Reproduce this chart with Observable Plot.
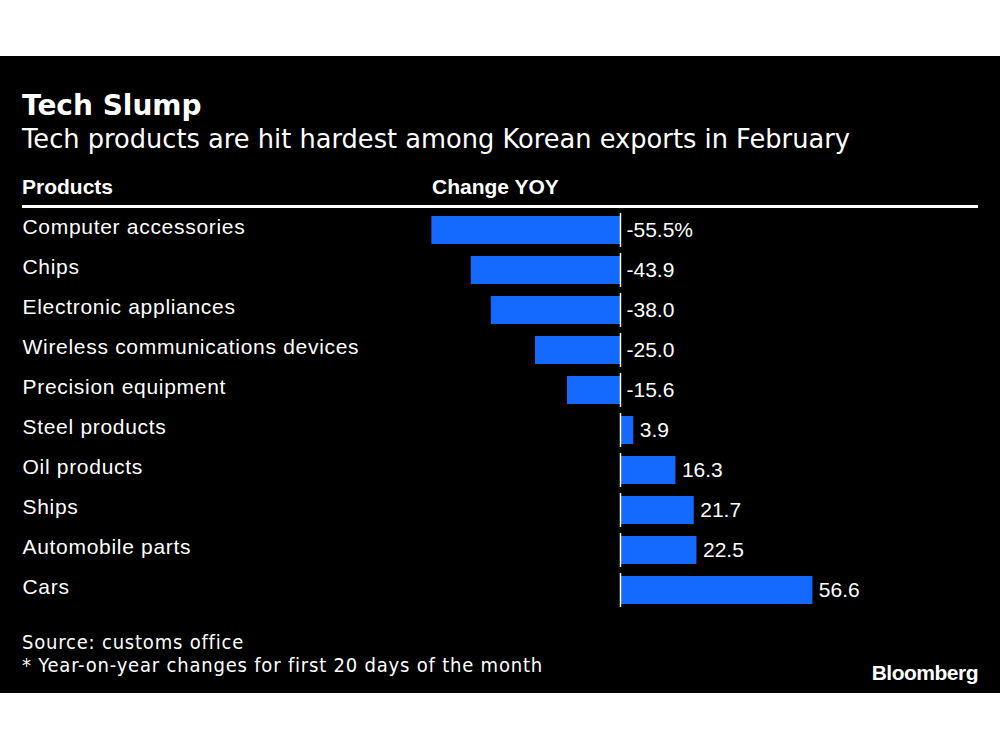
<!DOCTYPE html>
<html>
<head>
<meta charset="utf-8">
<script src="https://cdn.jsdelivr.net/npm/d3@7"></script>
<script src="https://cdn.jsdelivr.net/npm/@observablehq/plot@0.6"></script>
<style>
  html, body { margin: 0; padding: 0; background: #fff; }
  #panel { position: absolute; left: 0; top: 56px; width: 1000px; height: 637px; background: #000; overflow: hidden; }
  .t { position: absolute; color: #fff; white-space: nowrap; line-height: 1; }
  #title { left: 22px; top: 33px; font: bold 28px "DejaVu Sans"; }
  #subtitle { left: 22px; top: 68px; font: 25.7px "DejaVu Sans"; }
  .hdr { top: 119px; font: bold 21px "Liberation Sans", Arial, sans-serif; }
  #rule { position: absolute; left: 22px; top: 149px; width: 956px; height: 3px; background: #fff; }
  #chart { position: absolute; left: 0; top: 154px; }
  .foot { left: 22px; font: 20px "DejaVu Sans Condensed", "DejaVu Sans"; letter-spacing: 0.8px; }
  #brand { right: 22px; top: 605px; font: bold 21px "Liberation Sans", Arial, sans-serif; letter-spacing: -0.5px; }
</style>
</head>
<body>
<div id="panel">
  <div class="t" id="title">Tech Slump</div>
  <div class="t" id="subtitle">Tech products are hit hardest among Korean exports in February</div>
  <div class="t hdr" style="left:22px">Products</div>
  <div class="t hdr" style="left:432px">Change YOY</div>
  <div id="rule"></div>
  <div id="chart"></div>
  <div class="t foot" style="top:574px">Source: customs office</div>
  <div class="t foot" style="top:597px">* Year-on-year changes for first 20 days of the month</div>
  <div class="t" id="brand">Bloomberg</div>
</div>
<script>
const products = [
  "Computer accessories",
  "Chips",
  "Electronic appliances",
  "Wireless communications devices",
  "Precision equipment",
  "Steel products",
  "Oil products",
  "Ships",
  "Automobile parts",
  "Cars"
];
const changeYoY = [-55.5, -43.9, -38.0, -25.0, -15.6, 3.9, 16.3, 21.7, 22.5, 56.6];

const data = products.map((p, i) => ({product: p, value: changeYoY[i]}));
const fmt = (v, i) => v.toFixed(1) + (i === 0 ? "%" : "");

const chart = Plot.plot({
  width: 1000,
  height: 400,
  marginLeft: 0,
  marginRight: 0,
  marginTop: 0,
  marginBottom: 0,
  style: {background: "transparent", color: "#fff"},
  x: {domain: [-182.4, 111.8], axis: null},
  y: {domain: products, paddingInner: 0.3, paddingOuter: 0.15, axis: null},
  marks: [
    Plot.barX(data, {x: "value", y: "product", fill: "#1469ff"}),
    Plot.tickX(data, {x: 0, y: "product", stroke: "#fff", strokeWidth: 1.5, insetTop: -3, insetBottom: -3}),
    Plot.text(data, {y: "product", frameAnchor: "left", dx: 22, dy: -3, text: "product", textAnchor: "start",
      fill: "#fff", fontSize: 21, fontFamily: "Liberation Sans, Arial, sans-serif"}),
    Plot.text(data, {x: d => Math.max(0, d.value), y: "product", dx: 6, text: (d, i) => fmt(d.value, i),
      textAnchor: "start", fill: "#fff", fontSize: 21, fontFamily: "Liberation Sans, Arial, sans-serif"})
  ]
});
const textGroups = chart.querySelectorAll("g[aria-label='text']");
if (textGroups.length) textGroups[0].setAttribute("letter-spacing", "0.7");
document.getElementById("chart").appendChild(chart);
</script>
</body>
</html>
